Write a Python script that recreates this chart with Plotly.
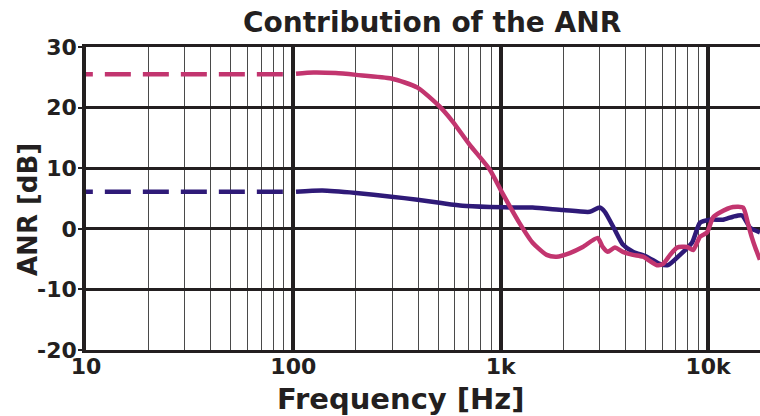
import plotly.graph_objects as go

# ---- data ----
dash_freq = [89, 10]
pink_dash = [25.5, 25.5]
navy_dash = [6.1, 6.1]

pink_freq = [103, 125, 160, 201, 297, 397, 507, 587, 708, 885, 1023, 1235, 1426, 1667, 1862,
             2154, 2489, 2938, 3105, 3285, 3556, 3884, 4345, 4855, 5675, 6072, 6565, 7095,
             7925, 8480, 9150, 9890, 10580, 11420, 13200, 14760, 15600, 16300, 16900, 17800]
pink_anr = [25.6, 25.8, 25.7, 25.4, 24.8, 23.3, 20.2, 17.7, 13.9, 9.8, 5.8, 0.9, -2.3, -4.3, -4.6,
            -4.0, -3.0, -1.5, -3.0, -3.8, -3.1, -3.8, -4.3, -4.6, -6.0, -5.8, -4.3, -3.1,
            -3.0, -3.5, -1.3, -0.6, 1.9, 2.7, 3.6, 3.5, 0.8, -1.5, -3.1, -5.1]

navy_freq = [103, 138, 201, 297, 397, 507, 655, 885, 1235, 1426, 2000, 2690, 3005, 3180, 3556,
             3884, 4345, 5070, 5860, 6410, 7330, 8370, 9150, 10240, 11830, 13200, 14600, 15950, 17800]
navy_anr = [6.1, 6.3, 5.9, 5.3, 4.8, 4.3, 3.8, 3.6, 3.5, 3.5, 3.1, 2.8, 3.5, 2.8, -0.2,
            -2.6, -3.8, -4.6, -5.8, -6.0, -4.3, -2.3, 1.0, 1.5, 1.5, 2.0, 2.2, 0.2, -0.6]

x_tickvals = [10, 100, 1000, 10000]
x_ticktext = ["10", "100", "1k", "10k"]
y_tickvals = [-20, -10, 0, 10, 20, 30]
y_ticktext = ["-20", "-10", "0", "10", "20", "30"]
minor_vals = [m * d for d in [10, 100, 1000, 10000] for m in range(2, 10)]

PINK = "#C2356F"
NAVY = "#2F1A78"
INK = "#231F20"
FONT = "DejaVu Sans"

fig = go.Figure()
for fx, fy, col in [(dash_freq, pink_dash, PINK), (dash_freq, navy_dash, NAVY)]:
    fig.add_trace(go.Scatter(x=fx, y=fy, mode="lines",
                             line=dict(color=col, width=4.5, dash="26px,12px")))
fig.add_trace(go.Scatter(x=navy_freq, y=navy_anr, mode="lines",
                         line=dict(color=NAVY, width=4.5, shape="spline", smoothing=0.6)))
fig.add_trace(go.Scatter(x=pink_freq, y=pink_anr, mode="lines",
                         line=dict(color=PINK, width=4.5, shape="spline", smoothing=0.6)))

fig.update_layout(
    width=760, height=416,
    margin=dict(l=86, r=0, t=47, b=66),
    paper_bgcolor="white", plot_bgcolor="white",
    showlegend=False,
    font=dict(family=FONT, color=INK, weight="bold"),
    xaxis=dict(
        type="log", range=[1, 4.2508],
        tickvals=x_tickvals, ticktext=x_ticktext,
        tickfont=dict(size=22, family=FONT, weight="bold", color=INK),
        showgrid=True, gridcolor=INK, gridwidth=3.5,
        showline=True, linecolor=INK, linewidth=3, mirror=True,
        ticks="", ticklabelstandoff=-5,
        minor=dict(tickvals=minor_vals, showgrid=True, gridcolor="#4a4a4a", gridwidth=1.2, ticks=""),
        zeroline=False,
    ),
    yaxis=dict(
        range=[-20, 30], tickvals=y_tickvals, ticktext=y_ticktext,
        tickfont=dict(size=22, family=FONT, weight="bold", color=INK),
        showgrid=True, gridcolor=INK, gridwidth=3,
        showline=True, linecolor=INK, linewidth=3.5,
        ticks="outside", ticklen=4, tickwidth=2, tickcolor=INK,
        ticklabelstandoff=-3,
        zeroline=False,
    ),
    annotations=[
        dict(text="Contribution of the ANR", xref="paper", yref="paper",
             x=(432 - 86) / 674, y=(350 - 22) / 303, xanchor="center", yanchor="middle",
             showarrow=False, font=dict(size=28, family=FONT, weight="bold", color=INK)),
        dict(text="Frequency [Hz]", xref="paper", yref="paper",
             x=(401 - 86) / 674, y=(350 - 399) / 303, xanchor="center", yanchor="middle",
             showarrow=False, font=dict(size=29, family=FONT, weight="bold", color=INK)),
        dict(text="ANR [dB]", xref="paper", yref="paper", textangle=-90,
             x=(28 - 86) / 674, y=(350 - 210) / 303, xanchor="center", yanchor="middle",
             showarrow=False, font=dict(size=26, family=FONT, weight="bold", color=INK)),
    ],
)

fig.write_html("out.html")
